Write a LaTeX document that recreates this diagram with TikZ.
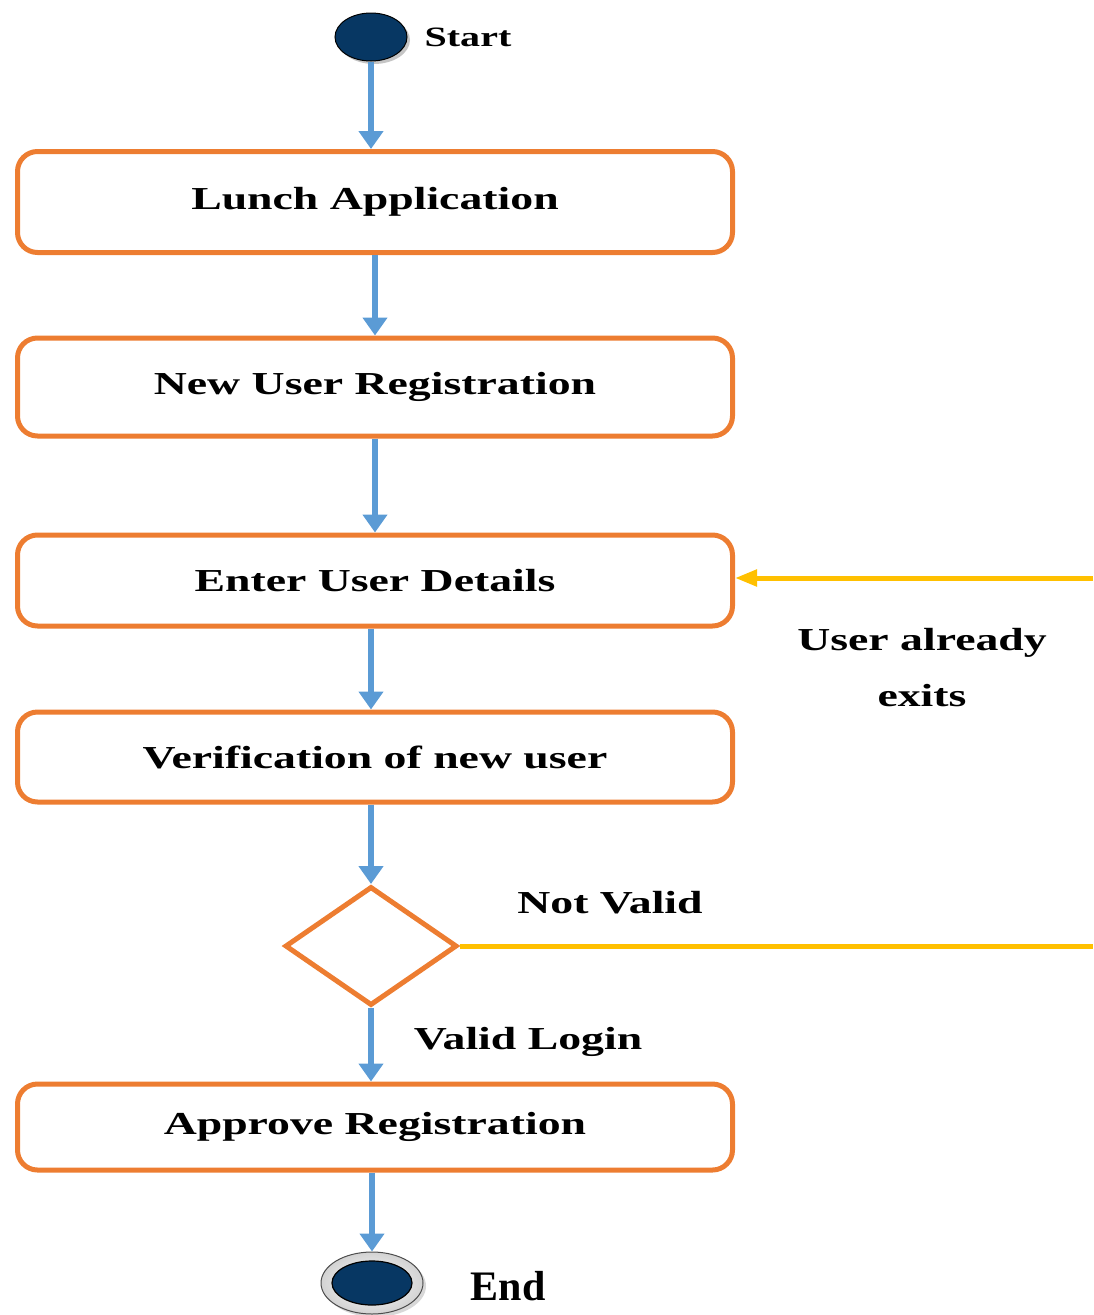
\documentclass[tikz,border=0pt]{standalone}
\usepackage{fontspec}
\setmainfont{Liberation Serif}[FakeStretch=1.43]
\newfontfamily\endfont{Liberation Serif}
\usetikzlibrary{arrows.meta,shapes.geometric,shadows}

\definecolor{boxorange}{HTML}{ED7D31}
\definecolor{flowblue}{HTML}{5B9BD5}
\definecolor{loopyellow}{HTML}{FFC000}
\definecolor{nodenavy}{HTML}{073763}

\begin{document}
\begin{tikzpicture}[x=1pt,y=-1pt,
  txt/.style={font=\bfseries\fontsize{32}{56}\selectfont, text=black, inner sep=0pt},
  stepbox/.style={draw=boxorange, line width=5pt, rounded corners=20pt,
    minimum width=715pt, inner sep=0pt, txt},
  flow/.style={draw=flowblue, line width=5.5pt, -{Triangle[width=24pt,length=18pt]}},
  loopline/.style={draw=loopyellow, line width=5pt},
  looparrow/.style={loopline, -{Triangle[width=16pt,length=22pt]}},
  startnode/.style={ellipse, draw=black, line width=1pt, fill=nodenavy,
    minimum width=72pt, minimum height=48pt, inner sep=0pt,
    drop shadow={shadow xshift=3pt, shadow yshift=-3pt, fill=black!45}},
  decision/.style={diamond, draw=boxorange, line width=5pt, inner sep=0pt,
    minimum width=172pt, minimum height=119pt}
]
\useasboundingbox (0,0) rectangle (1093,1315);

% initial state
\node[startnode] (start) at (371,37) {};
\node[txt, font=\bfseries\fontsize{28}{32}\selectfont] (startlbl) at (468,37) {Start};

% activity boxes
\node[stepbox, minimum height=101pt] (lunch)   at (375,202) {Lunch Application};
\node[stepbox, minimum height=98pt]  (newuser) at (375,387)   {New User Registration};
\node[stepbox, minimum height=91pt]  (enter)   at (375,580.5) {Enter User Details};
\node[stepbox, minimum height=90pt]  (verif)   at (375,757)   {Verification of new user};
\node[decision] (dec) at (371,946) {};
\node[stepbox, minimum height=86pt]  (approve) at (375,1127)  {Approve Registration};

% final state
\node[ellipse, draw=gray!60!black, line width=1pt, inner color=white, outer color=gray!35,
      minimum width=102pt, minimum height=62pt, inner sep=0pt,
      drop shadow={shadow xshift=3pt, shadow yshift=-3pt, fill=black!30}] (endring) at (372,1283) {};
\node[ellipse, fill=nodenavy, draw=black, line width=1.2pt,
      minimum width=80pt, minimum height=44pt, inner sep=0pt] (endcore) at (endring.center) {};
\node[font=\endfont\bfseries\fontsize{42}{46}\selectfont, inner sep=0pt] (endlbl) at (508,1286) {End};

% main flow
\draw[flow] (start.south) -- (lunch.north -| start);
\draw[flow] (lunch.south) -- (newuser.north);
\draw[flow] (newuser.south) -- (enter.north);
\draw[flow] (enter.south -| dec) -- (verif.north -| dec);
\draw[flow] (verif.south -| dec) -- (dec.north);
\draw[flow] (dec.south) -- (approve.north -| dec);
\draw[flow] (approve.south -| endring) -- (endring.north);

% rejection loop
\coordinate (loopout) at (1093,946);
\coordinate (loopin)  at (1093,578);
\draw[loopline] (dec.east) -- (loopout);
\draw[looparrow] (loopin) -- (enter.east |- loopin);

% guard labels
\node[txt] (notvalid) at (610,903) {Not Valid};
\node[txt] (validlogin) at (528,1042) {Valid Login};
\node[txt, align=center] (exists) at (922,668) {User already\\exits};
\end{tikzpicture}
\end{document}
